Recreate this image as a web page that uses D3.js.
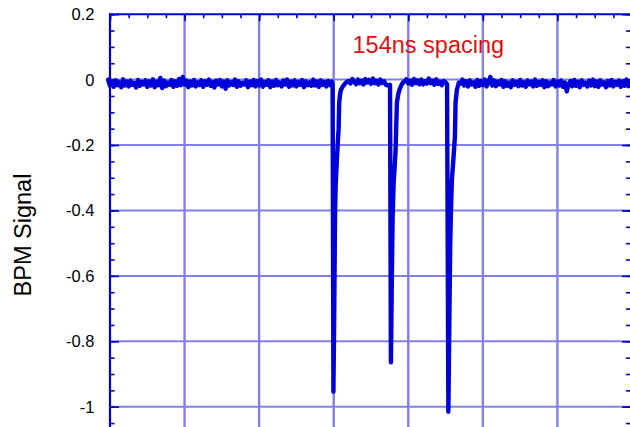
<!DOCTYPE html>
<html>
<head>
<meta charset="utf-8">
<script src="https://cdn.jsdelivr.net/npm/d3@7"></script>
<style>
  html, body { margin: 0; padding: 0; background: #fff; }
  svg { display: block; }
</style>
</head>
<body>
<svg id="chart" width="630" height="427"></svg>
<script>
// ---------------- DATA ----------------
// x in ns, y = BPM signal
const xDomain = [0, 1400];
const yDomain = [-1.25, 0.2];
const xGridTicks = [0, 200, 400, 600, 800, 1000, 1200, 1400];
const yTickValues = [0.2, 0, -0.2, -0.4, -0.6, -0.8, -1];
const yTickLabels = ["0.2", "0", "-0.2", "-0.4", "-0.6", "-0.8", "-1"];

// baseline trace sampled every 5 ns starting at -5 ns (values in units of 0.001)
const baselineStart = -5;
const baselineStep = 5;
const baselineMilli = [
  0,-19,-4,-22,-2,-17,-8,-23,1,-18,-6,-21,-3,-16,-10,-24,-1,-19,-7,-15,
  -2,-22,-5,-18,1,-23,-6,-17,5,-26,-3,-20,-9,-16,-1,-22,-5,-19,2,-17,
  8,-15,-3,-23,-6,-18,-1,-21,-8,-17,-2,-22,-5,-16,0,-19,-7,-24,-3,-15,
  -1,-21,-6,-28,-2,-18,-8,-16,0,-22,-5,-19,-10,-15,-2,-23,-6,-17,-1,-21,
  -4,-18,0,-22,-7,-16,-2,-23,-6,-19,-1,-17,-8,-21,-3,-15,0,-22,-6,-18,
  -2,-21,-7,-16,-1,-23,-5,-17,-8,-19,0,-18,-6,-22,-2,-16,-7,-21,-4,-17,
  -6,-10,-8,-10,-6,-4,-8,-2,-7,-3,-12,2,-7,-14,0,-11,-3,-15,2,-9,
  -1,-13,3,-11,-3,-15,0,-10,-5,-16,-18,-6,-6,-6,-6,-6,-6,-6,-6,-6,
  1,-12,-3,-16,2,-11,-2,-14,0,-15,-5,-12,3,-11,-3,-16,1,-13,-6,-17,
  -4,-8,-8,-8,-8,-8,-8,-8,-8,-8,0,-18,-5,-21,-2,-15,-8,-22,-1,-19,
  -4,-17,0,-21,-7,8,-18,-2,-20,-6,-15,-1,-22,-5,-19,-9,-23,-2,-16,-7,
  -20,-1,-18,-8,-22,-3,-15,-6,-21,0,-19,-7,-16,-2,-23,-5,-20,-9,-15,-1,
  -21,-6,-18,-3,-22,-9,-36,-15,-4,-20,-1,-19,-7,-23,-2,-16,-9,-21,-3,-18,
  0,-20,-6,-22,-2,-15,-8,-23,-4,-18,-1,-21,-7,-16,-3,-22,-6,-19,0,-20,
  -4,-17,-8
];

// three bunch pulses, 154 ns apart
const dip1Times  = [597, 599.2, 601.5, 603.5, 605, 607, 609, 611, 613.1, 614.7, 617, 619.3, 625, 632.7, 640];
const dip1Values = [-0.012, -0.954, -0.70, -0.42, -0.33, -0.28, -0.235, -0.19, -0.153, -0.07, -0.045, -0.031, -0.02, -0.009, -0.004];

const dip2Times  = [751, 753.4, 756, 758, 759.5, 761, 763, 766, 767.6, 769.5, 773, 776.7, 781, 785.5, 792];
const dip2Values = [-0.016, -0.864, -0.6, -0.42, -0.36, -0.31, -0.275, -0.214, -0.144, -0.07, -0.045, -0.03, -0.018, -0.009, -0.004];

const dip3Times  = [904, 907.5, 910.5, 912.5, 914.5, 917, 921.5, 925, 926.8, 930.3, 935.7, 942];
const dip3Values = [-0.014, -1.015, -0.7, -0.5, -0.40, -0.306, -0.235, -0.174, -0.07, -0.031, -0.009, -0.012];

const annotationText = "154ns spacing";
const yAxisTitle = "BPM Signal";

// ---------------- BUILD ----------------
const svg = d3.select("#chart");
const plotLeft = 110, plotRight = 632, plotTop = 14.2;
const unitPx = 327.1;
const plotBottom = plotTop + (yDomain[1] - yDomain[0]) * unitPx;

const x = d3.scaleLinear().domain(xDomain).range([plotLeft, plotRight]);
const y = d3.scaleLinear().domain(yDomain).range([plotBottom, plotTop]);

const axisColor = "#0000c8";
const gridColor = "#8080e6";
const traceColor = "#0000d8";
const font = "'Liberation Sans', Arial, Helvetica, sans-serif";

// gridlines
const gGrid = svg.append("g");
gGrid.selectAll("line.v").data(xGridTicks.slice(1, -1)).enter().append("line")
  .attr("x1", d => x(d)).attr("x2", d => x(d))
  .attr("y1", plotTop).attr("y2", plotBottom)
  .attr("stroke", gridColor).attr("stroke-width", 2.4);
gGrid.selectAll("line.h").data(yTickValues.slice(1)).enter().append("line")
  .attr("x1", plotLeft).attr("x2", plotRight)
  .attr("y1", d => y(d)).attr("y2", d => y(d))
  .attr("stroke", gridColor).attr("stroke-width", 2);

// axes via d3 axis generators (ticks inward)
const yMinor = d3.range(-1.25, 0.2001, 0.05).map(v => Math.round(v * 100) / 100);
const xMinor = d3.range(0, 1400.1, 50);

function styleAxis(g) {
  g.select(".domain").remove();
  g.selectAll(".tick line").attr("stroke", axisColor).attr("stroke-width", 1.6);
  g.selectAll("text").remove();
}

// left
svg.append("g").attr("transform", `translate(${plotLeft},0)`)
  .call(d3.axisRight(y).tickValues(yMinor).tickSize(4.5).tickFormat(""))
  .call(styleAxis);
svg.append("g").attr("transform", `translate(${plotLeft},0)`)
  .call(d3.axisRight(y).tickValues(yTickValues).tickSize(9).tickFormat(""))
  .call(styleAxis);
// right
svg.append("g").attr("transform", `translate(${plotRight},0)`)
  .call(d3.axisLeft(y).tickValues(yMinor).tickSize(6).tickFormat(""))
  .call(styleAxis);
svg.append("g").attr("transform", `translate(${plotRight},0)`)
  .call(d3.axisLeft(y).tickValues(yTickValues).tickSize(10).tickFormat(""))
  .call(styleAxis);
// top
svg.append("g").attr("transform", `translate(0,${plotTop})`)
  .call(d3.axisBottom(x).tickValues(xMinor).tickSize(4).tickFormat(""))
  .call(styleAxis);
svg.append("g").attr("transform", `translate(0,${plotTop})`)
  .call(d3.axisBottom(x).tickValues(xGridTicks).tickSize(7).tickFormat(""))
  .call(styleAxis);

// frame
svg.append("line").attr("x1", plotLeft).attr("x2", plotLeft).attr("y1", plotTop - 1).attr("y2", plotBottom)
  .attr("stroke", axisColor).attr("stroke-width", 2.2);
svg.append("line").attr("x1", plotLeft - 1).attr("x2", plotRight).attr("y1", plotTop).attr("y2", plotTop)
  .attr("stroke", axisColor).attr("stroke-width", 2);
svg.append("line").attr("x1", plotRight).attr("x2", plotRight).attr("y1", plotTop).attr("y2", plotBottom)
  .attr("stroke", axisColor).attr("stroke-width", 2);

// y tick labels
svg.append("g").selectAll("text").data(yTickValues).enter().append("text")
  .attr("x", 94.5).attr("y", d => y(d)).attr("dy", "0.36em")
  .attr("text-anchor", "end")
  .attr("font-family", font).attr("font-size", 16.5).attr("fill", "#000")
  .text((d, i) => yTickLabels[i]);

// y title
svg.append("text")
  .attr("transform", `translate(31,235) rotate(-90)`)
  .attr("text-anchor", "middle")
  .attr("font-family", font).attr("font-size", 23.5).attr("fill", "#000")
  .text(yAxisTitle);

// trace data
const dips = [[dip1Times, dip1Values], [dip2Times, dip2Values], [dip3Times, dip3Values]];
const windows = dips.map(([t]) => [t[0], t[t.length - 1]]);
let pts = baselineMilli.map((v, i) => ({ t: baselineStart + i * baselineStep, v: v / 1000 }))
  .filter(p => !windows.some(([a, b]) => p.t >= a - 1 && p.t <= b + 1));
dips.forEach(([ts, vs]) => ts.forEach((t, i) => pts.push({ t, v: vs[i] })));
pts.sort((a, b) => a.t - b.t);

const line = d3.line().x(d => x(d.t)).y(d => y(d.v));
svg.append("path").datum(pts)
  .attr("d", line)
  .attr("fill", "none")
  .attr("stroke", traceColor)
  .attr("stroke-width", 4.4)
  .attr("stroke-linejoin", "round")
  .attr("stroke-linecap", "round");

// annotation
svg.append("text")
  .attr("x", 352.5).attr("y", 52.7)
  .attr("font-family", font).attr("font-size", 23.5).attr("fill", "#dd1111")
  .text(annotationText);
</script>
</body>
</html>
